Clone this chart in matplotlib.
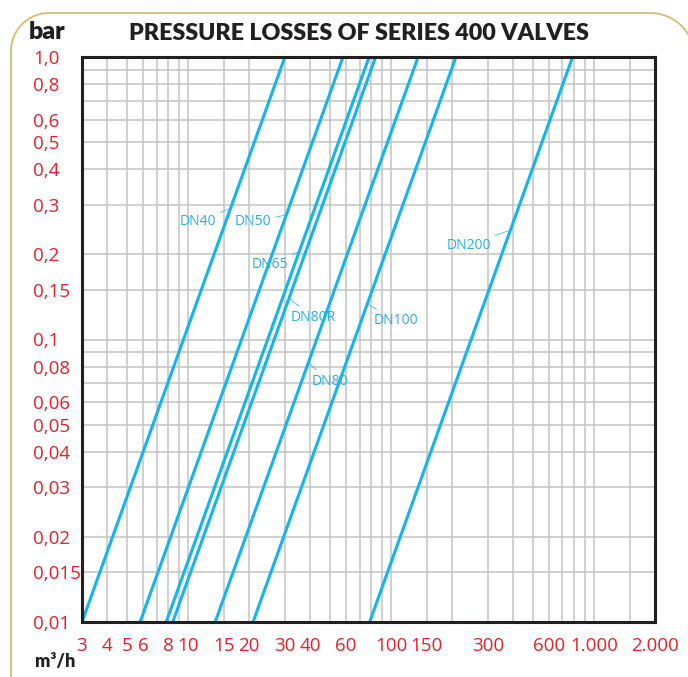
import numpy as np
import matplotlib
matplotlib.use('Agg')
import matplotlib.pyplot as plt
from matplotlib.patches import PathPatch
from matplotlib.path import Path

# ── data ──
# flow (m3/h) at which each valve gives 1 bar of pressure loss (Kv)
valves = ['DN40', 'DN50', 'DN65', 'DN80R', 'DN80', 'DN100', 'DN200']
kv = [30, 58, 78, 84, 136, 209, 785]

x_ticks = [3, 4, 5, 6, 8, 10, 15, 20, 30, 40, 60, 100, 150, 300, 600, 1000, 2000]
x_tick_labels = ['3', '4', '5', '6', '8', '10', '15', '20', '30', '40', '60',
                 '100', '150', '300', '600', '1.000', '2.000']
x_grid = [3, 4, 5, 6, 7, 8, 9, 10, 15, 20, 30, 40, 50, 60, 70, 80, 90, 100,
          150, 200, 300, 400, 500, 600, 700, 800, 900, 1000, 1500]

y_ticks = [0.01, 0.015, 0.02, 0.03, 0.04, 0.05, 0.06, 0.08, 0.1, 0.15, 0.2,
           0.3, 0.4, 0.5, 0.6, 0.8, 1.0]
y_tick_labels = ['0,01', '0,015', '0,02', '0,03', '0,04', '0,05', '0,06', '0,08',
                 '0,1', '0,15', '0,2', '0,3', '0,4', '0,5', '0,6', '0,8', '1,0']
y_grid = [0.01, 0.015, 0.02, 0.03, 0.04, 0.05, 0.06, 0.07, 0.08, 0.09, 0.1,
          0.15, 0.2, 0.3, 0.4, 0.5, 0.6, 0.7, 0.8, 0.9, 1.0]

# label placement: pressure where leader touches the line, text position (Q, p)
label_touch_p = [0.292, 0.276, 0.205, 0.140, 0.0826, 0.1336, 0.244]
label_text_q = [11.2, 20.9, 25.3, 41.2, 50.0, 105.7, 241.8]
label_text_p = [0.261, 0.261, 0.185, 0.120, 0.0713, 0.117, 0.216]

# ── style ──
LINE = '#13b5ea'
TEXT_BLUE = '#2aaee6'
RED = '#e8202a'
GRID = '#c4c4c4'
FRAME = '#231f20'
GOLD = '#d3bf72'
tick_font = ['Open Sans', 'DejaVu Sans']

fig = plt.figure(figsize=(6.88, 6.77), dpi=100)
ax = fig.add_axes([82 / 688, 1 - 622 / 677, (655 - 82) / 688, (622 - 57) / 677])
ax.set_xscale('log')
ax.set_yscale('log')
ax.set_xlim(3, 2000)
ax.set_ylim(0.01, 1.0)

# grid
for gx in x_grid:
    ax.axvline(gx, color=GRID, lw=1.1, zorder=1)
for gy in y_grid:
    ax.axhline(gy, color=GRID, lw=1.1, zorder=1)

# pressure loss lines: dp = (Q / Kv)^2
p = np.array([0.01, 1.0])
for name, k in zip(valves, kv):
    ax.plot(k * np.sqrt(p), p, color=LINE, lw=2.2, solid_capstyle='butt', zorder=3)

for name, k, tp, qx, py in zip(valves, kv, label_touch_p, label_text_q, label_text_p):
    ax.annotate(name, xy=(k * np.sqrt(tp), tp), xytext=(qx, py),
                ha='center', va='center', fontsize=10, color=TEXT_BLUE,
                family=tick_font, zorder=4,
                arrowprops=dict(arrowstyle='-', color=TEXT_BLUE, lw=0.5,
                                shrinkA=1, shrinkB=0))

# ticks
ax.xaxis.set_minor_locator(matplotlib.ticker.NullLocator())
ax.yaxis.set_minor_locator(matplotlib.ticker.NullLocator())
ax.set_xticks(x_ticks, x_tick_labels)
ax.set_yticks(y_ticks, y_tick_labels)
ax.tick_params(axis='both', length=0, labelcolor=RED, labelsize=13.5)
ax.tick_params(axis='x', pad=11)
ax.tick_params(axis='y', pad=35)
for lab in ax.get_yticklabels():
    lab.set_horizontalalignment('left')
    lab.set_family(tick_font)
for lab in ax.get_xticklabels():
    lab.set_family(tick_font)

for sp in ax.spines.values():
    sp.set_color(FRAME)
    sp.set_linewidth(2.2)
    sp.set_zorder(5)

# titles
title = fig.text(359 / 688, 1 - 34 / 677, 'PRESSURE LOSSES OF SERIES 400 VALVES',
                 ha='center', va='center', fontsize=17, fontweight='heavy', color='#231f20',
                 family=['Lato', 'DejaVu Sans'])
# shrink the title to the width of the original (about 462 px)
renderer = fig.canvas.get_renderer()
w = title.get_window_extent(renderer).width
title.set_fontsize(17 * 462 / w)

fig.text(29 / 688, 1 - 32 / 677, 'bar', ha='left', va='center', fontsize=18,
         fontweight='heavy', color='#231f20', family=['Lato', 'DejaVu Sans'])
fig.text(35 / 688, 1 - 662 / 677, 'm³/h', ha='left', va='center', fontsize=13,
         fontweight='heavy', color='#231f20', family=['Lato', 'DejaVu Sans'])

# rounded outer frame in pixels: left edge, top-left corner, top edge,
# top-right corner running off the picture
top, left, r1, r2, cx2 = 664, 11, 38, 45, 650
a1 = np.linspace(np.pi, np.pi / 2, 30)
a2 = np.linspace(np.pi / 2, -0.3, 40)
verts = ([(left, -10)] +
         list(zip(left + r1 + r1 * np.cos(a1), top - r1 + r1 * np.sin(a1))) +
         list(zip(cx2 + r2 * np.cos(a2), top - r2 + r2 * np.sin(a2))))
border = PathPatch(Path(verts), transform=None, fill=False, edgecolor=GOLD, lw=1.3)
fig.patches.append(border)

fig.savefig('out.png', dpi=100, facecolor='white')
